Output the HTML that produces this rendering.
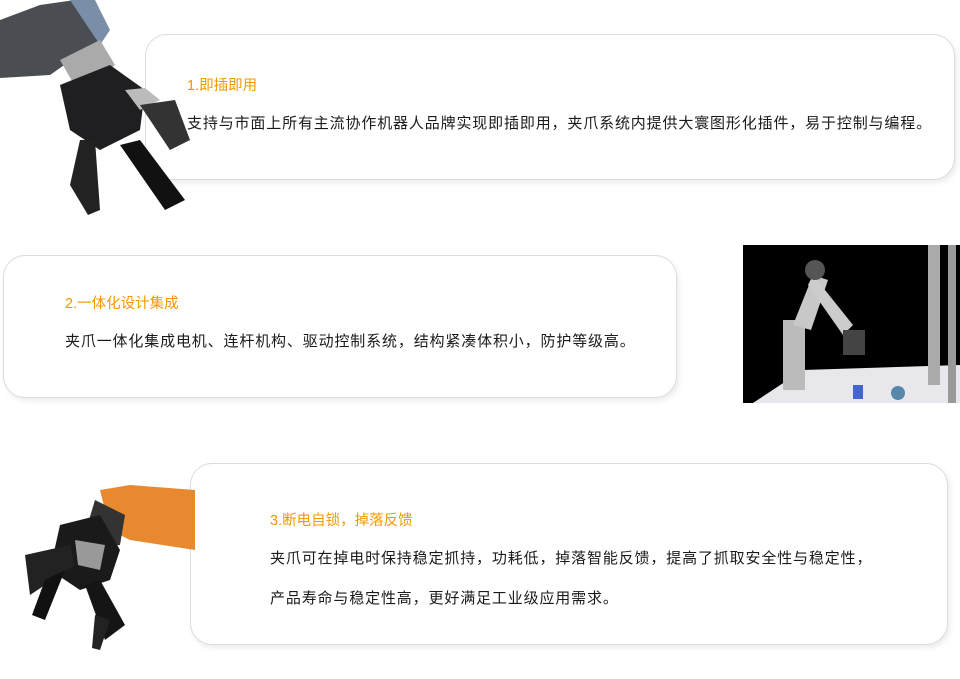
<!DOCTYPE html>
<html><head><meta charset="utf-8"><style>
body{margin:0;width:960px;height:679px;background:#fff;position:relative;overflow:hidden;font-family:"Liberation Sans","Noto Sans CJK SC",sans-serif;}
.card{position:absolute;background:#fff;border:1.5px solid #dcdcdc;border-radius:22px;box-shadow:2px 3px 6px rgba(0,0,0,0.08);box-sizing:border-box;}
.t{position:absolute;color:#f39800;font-size:14.5px;white-space:nowrap;line-height:1;}
.b{position:absolute;color:#1a1a1a;font-size:15px;letter-spacing:0.85px;white-space:nowrap;line-height:1;}
svg{position:absolute;}
</style></head><body>
<div class="card" style="left:145px;top:34px;width:810px;height:146px;"></div>
<div class="card" style="left:3px;top:255px;width:674px;height:143px;"></div>
<div class="card" style="left:190px;top:463px;width:758px;height:182px;"></div>

<svg style="left:0;top:0" width="200" height="225">
<path d="M0 20 L40 5 L75 0 L100 40 L50 75 L0 78Z" fill="#4a4d52"/>
<path d="M70 0 L95 0 L110 30 L100 45Z" fill="#7a8ea8"/>
<path d="M60 60 L100 40 L115 65 L80 95Z" fill="#aaa"/>
<path d="M60 85 L110 65 L145 90 L140 130 L100 150 L70 130Z" fill="#1f1f22"/>
<path d="M125 90 L145 88 L160 100 L140 110Z" fill="#bbb"/>
<path d="M140 105 L175 100 L190 140 L170 150Z" fill="#333"/>
<path d="M120 145 L140 140 L185 200 L165 210Z" fill="#111"/>
<path d="M80 140 L95 140 L100 210 L88 215 L70 185Z" fill="#222"/>
</svg>

<div class="t" style="left:187px;top:79px;">1.即插即用</div>
<div class="b" style="left:187px;top:116px;">支持与市面上所有主流协作机器人品牌实现即插即用，夹爪系统内提供大寰图形化插件，易于控制与编程。</div>

<div class="t" style="left:65px;top:297px;">2.一体化设计集成</div>
<div class="b" style="left:65px;top:334px;">夹爪一体化集成电机、连杆机构、驱动控制系统，结构紧凑体积小，防护等级高。</div>

<svg style="left:743px;top:245px" width="217" height="158">
<rect width="217" height="158" fill="#000"/>
<path d="M10 158 L60 125 L217 120 L217 158Z" fill="#e8e8ec"/>
<rect x="185" y="0" width="12" height="140" fill="#aaa"/>
<rect x="205" y="0" width="8" height="158" fill="#999"/>
<rect x="40" y="75" width="22" height="70" fill="#bbb"/>
<path d="M50 80 L70 30 L85 35 L68 85Z" fill="#c8c8c8"/>
<path d="M70 30 L110 80 L100 90 L65 40Z" fill="#ccc"/>
<circle cx="72" cy="25" r="10" fill="#555"/>
<rect x="100" y="85" width="22" height="25" fill="#444"/>
<rect x="110" y="140" width="10" height="14" fill="#46c"/>
<circle cx="155" cy="148" r="7" fill="#58a"/>
</svg>

<svg style="left:0;top:470px" width="200" height="180">
<path d="M100 20 L130 15 L195 20 L195 80 L130 70 L110 60Z" fill="#e8892f"/>
<path d="M95 30 L125 45 L120 75 L80 80Z" fill="#333"/>
<path d="M60 55 L100 45 L120 80 L110 110 L80 120 L50 100Z" fill="#1a1a1a"/>
<path d="M75 70 L105 75 L100 100 L78 95Z" fill="#999"/>
<path d="M25 85 L70 75 L75 95 L30 125Z" fill="#222"/>
<path d="M45 110 L65 100 L45 150 L32 145Z" fill="#111"/>
<path d="M85 115 L100 110 L125 155 L105 170Z" fill="#151515"/>
<path d="M95 145 L110 150 L100 180 L92 178Z" fill="#222"/>
</svg>

<div class="t" style="left:270px;top:514px;">3.断电自锁，掉落反馈</div>
<div class="b" style="left:270px;top:551px;">夹爪可在掉电时保持稳定抓持，功耗低，掉落智能反馈，提高了抓取安全性与稳定性，</div>
<div class="b" style="left:270px;top:591px;">产品寿命与稳定性高，更好满足工业级应用需求。</div>
</body></html>
